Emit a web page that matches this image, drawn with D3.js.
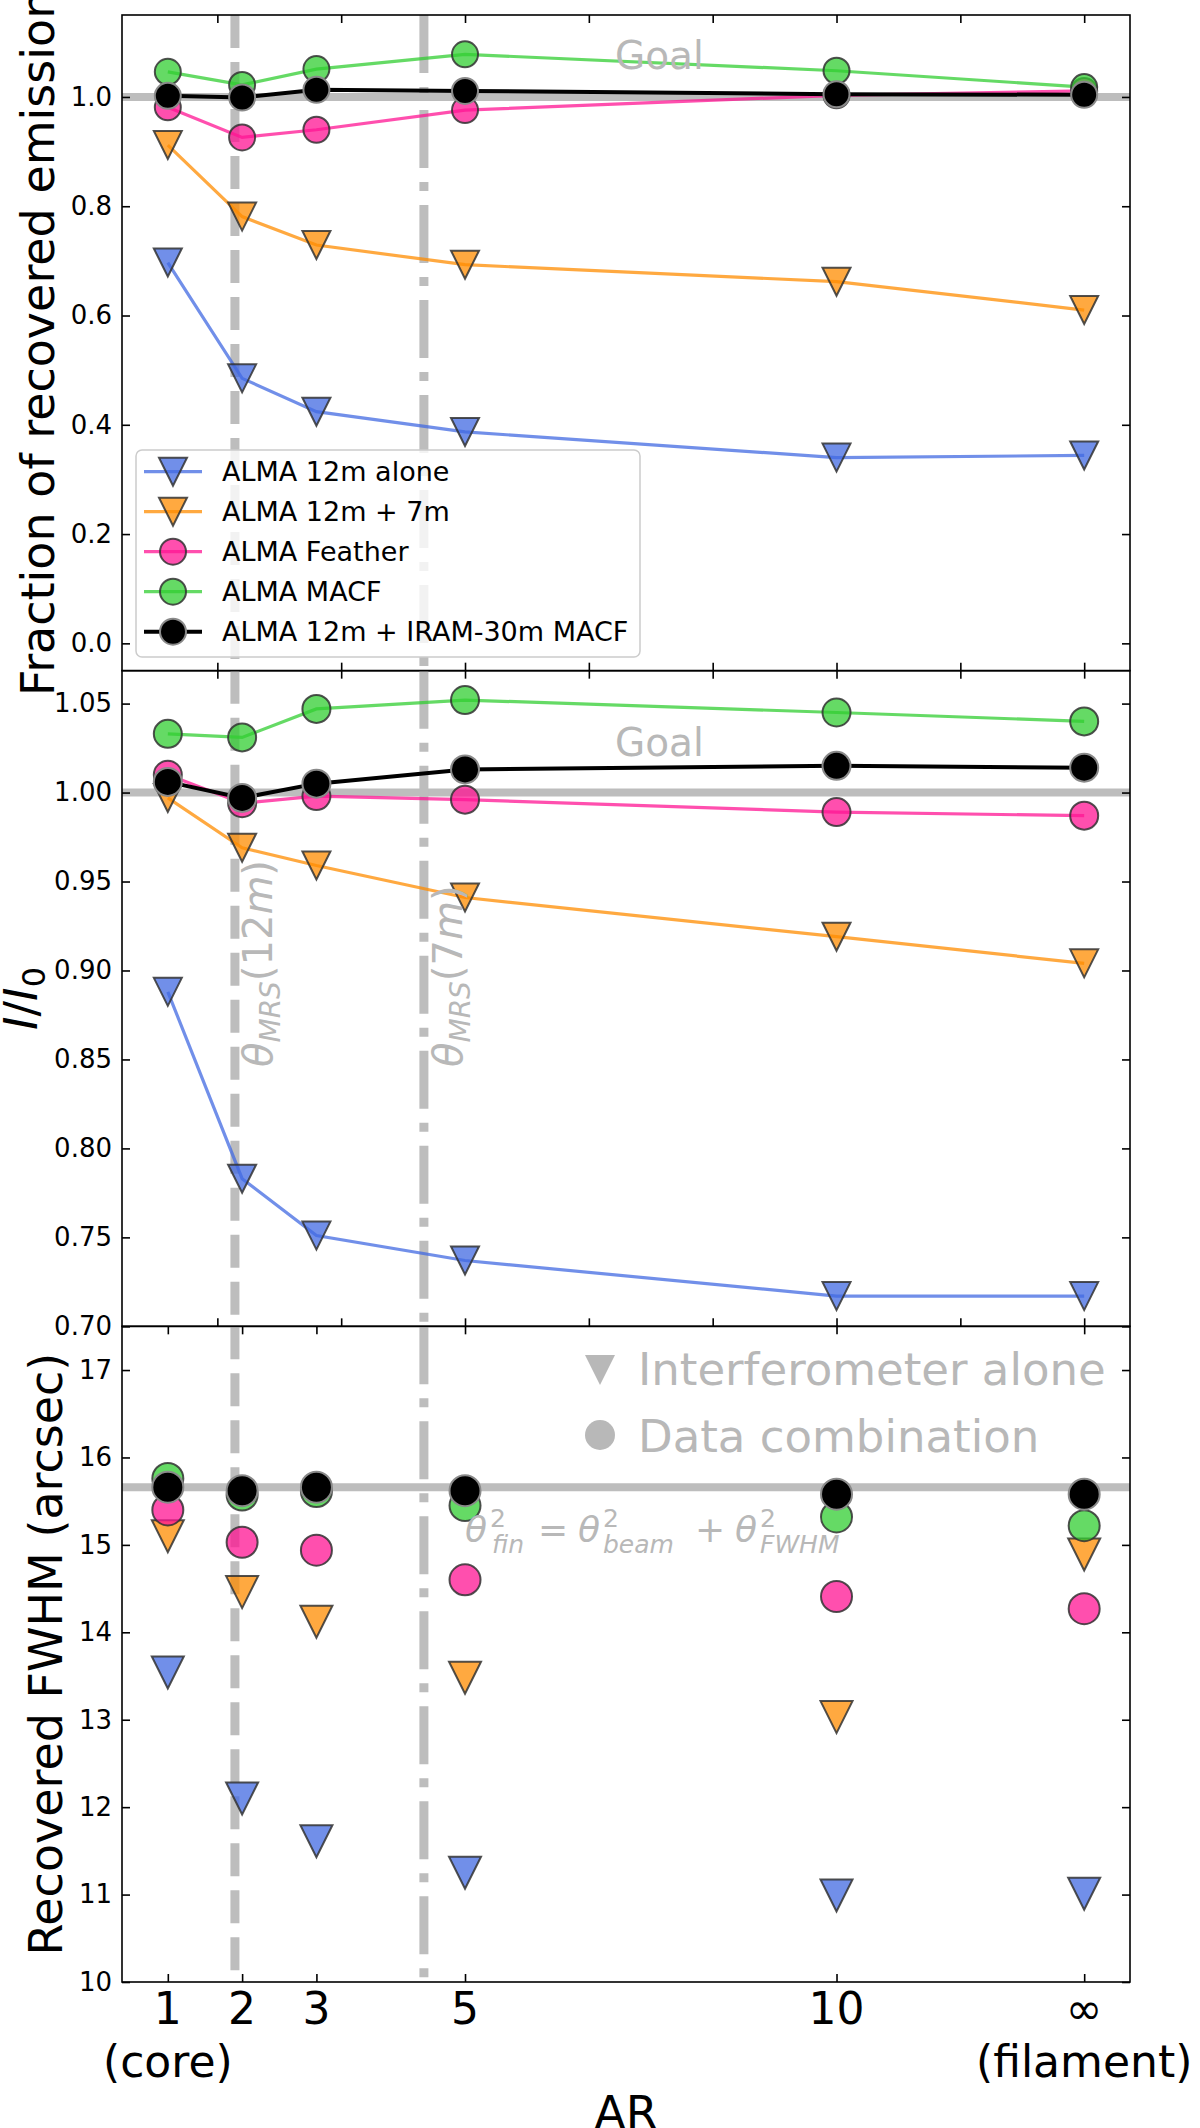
<!DOCTYPE html>
<html>
<head>
<meta charset="utf-8">
<script src="https://cdn.jsdelivr.net/npm/d3@7"></script>
<style>
  body { margin: 0; background: #fff; }
  svg { display: block; }
  text { font-family: "DejaVu Sans", sans-serif; }
</style>
</head>
<body>
<div id="chart"></div>
<script>
// x axis: AR categories drawn at these plot positions
const arLabels = [["1", "(core)"], ["2"], ["3"], ["5"], ["10"], ["\u221e", "(filament)"]];
const arPos = [3, 6, 9, 15, 30, 40];
const autoTicks = [5, 10, 15, 20, 25, 30, 35, 40];
const mrs12m = 5.71, mrs7m = 13.34;

const seriesNames = ["ALMA 12m alone", "ALMA 12m + 7m", "ALMA Feather", "ALMA MACF", "ALMA 12m + IRAM-30m MACF"];
const seriesColors = ["#4169e1", "#ff8c00", "#ff1493", "#32cd32", "#000000"];
const seriesMarkers = ["tri", "tri", "circ", "circ", "circ"];

// top panel: fraction of recovered emission
const fracTicks = [0.0, 0.2, 0.4, 0.6, 0.8, 1.0];
const frac12m     = [0.697, 0.485, 0.424, 0.387, 0.340, 0.344];
const frac12m7m   = [0.912, 0.781, 0.729, 0.693, 0.662, 0.610];
const fracFeather = [0.981, 0.926, 0.940, 0.976, 1.003, 1.011];
const fracMacf    = [1.046, 1.022, 1.051, 1.078, 1.048, 1.018];
const fracIram    = [1.002, 0.999, 1.013, 1.011, 1.005, 1.004];

// middle panel: I/I0
const ratioTicks = [0.70, 0.75, 0.80, 0.85, 0.90, 0.95, 1.00, 1.05];
const ratio12m     = [0.888, 0.783, 0.751, 0.737, 0.717, 0.717];
const ratio12m7m   = [0.997, 0.969, 0.959, 0.941, 0.919, 0.904];
const ratioFeather = [1.010, 0.994, 0.998, 0.996, 0.989, 0.987];
const ratioMacf    = [1.033, 1.031, 1.047, 1.052, 1.045, 1.040];
const ratioIram    = [1.006, 0.997, 1.005, 1.013, 1.015, 1.014];

// bottom panel: recovered FWHM (arcsec)
const fwhmTicks = [10, 11, 12, 13, 14, 15, 16, 17];
const fwhm12m     = [13.54, 12.10, 11.61, 11.25, 10.99, 11.01];
const fwhm12m7m   = [15.10, 14.46, 14.12, 13.48, 13.03, 14.89];
const fwhmFeather = [15.40, 15.03, 14.94, 14.60, 14.41, 14.27];
const fwhmMacf    = [15.76, 15.57, 15.61, 15.45, 15.32, 15.22];
const fwhmIram    = [15.66, 15.62, 15.66, 15.62, 15.58, 15.58];
const fwhmGoal = 15.66;

const width = 1200, height = 2128;
const left = 122, right = 1130;
const panelTop = [15, 670.67, 1326.33], ph = 655.67;
const gray = "#bdbdbd", textGray = "#b8b8b8";

const svg = d3.select("#chart").append("svg")
    .attr("width", width)
    .attr("height", height);

const x = d3.scaleLinear().domain([1.15, 41.85]).range([left, right]);

const panels = [
    { domain: [-0.05, 1.15], ticks: fracTicks, fmt: d3.format(".1f"), goal: 1.0, lines: true,
      data: [frac12m, frac12m7m, fracFeather, fracMacf, fracIram], tri: 28, circ: 26, xticks: autoTicks },
    { domain: [0.70, 1.0685], ticks: ratioTicks, fmt: d3.format(".2f"), goal: 1.0, lines: true,
      data: [ratio12m, ratio12m7m, ratioFeather, ratioMacf, ratioIram], tri: 28, circ: 28, xticks: autoTicks },
    { domain: [10, 17.5], ticks: fwhmTicks, fmt: d3.format("d"), goal: fwhmGoal, lines: false,
      data: [fwhm12m, fwhm12m7m, fwhmFeather, fwhmMacf, fwhmIram], tri: 32, circ: 31, xticks: arPos }
];

function triPath(s) {
    const h = s / 2;
    return `M${-h},${-h}L${h},${-h}L0,${h}Z`;
}

function drawMarker(g, type, cx, cy, size, color, k) {
    const black = color === "#000000";
    let m;
    if (type === "tri") {
        m = g.append("path").attr("d", triPath(size)).attr("transform", `translate(${cx},${cy})`);
    } else {
        m = g.append("circle").attr("cx", cx).attr("cy", cy).attr("r", size / 2);
    }
    m.attr("fill", color)
        .attr("fill-opacity", black ? 1 : 0.75)
        .attr("stroke", black ? "#8a8a8a" : "#333")
        .attr("stroke-opacity", black ? 1 : 0.85)
        .attr("stroke-width", 2);
    return m;
}

const yScales = [];

panels.forEach((p, k) => {
    const top = panelTop[k], bot = top + ph;
    const y = d3.scaleLinear().domain(p.domain).range([bot, top]);
    yScales.push(y);
    const g = svg.append("g");

    // goal line
    g.append("line")
        .attr("x1", left).attr("x2", right)
        .attr("y1", y(p.goal)).attr("y2", y(p.goal))
        .attr("stroke", gray).attr("stroke-width", 8);

    // maximum recoverable scale lines
    g.append("line")
        .attr("x1", x(mrs12m)).attr("x2", x(mrs12m))
        .attr("y1", top).attr("y2", bot)
        .attr("stroke", gray).attr("stroke-width", 9)
        .attr("stroke-dasharray", "33,14");
    g.append("line")
        .attr("x1", x(mrs7m)).attr("x2", x(mrs7m))
        .attr("y1", top).attr("y2", bot)
        .attr("stroke", gray).attr("stroke-width", 9)
        .attr("stroke-dasharray", "58,14,9,14");

    // series
    p.data.forEach((vals, s) => {
        const color = seriesColors[s];
        if (p.lines) {
            const line = d3.line()
                .x((d, i) => x(arPos[i]))
                .y(d => y(d));
            g.append("path")
                .datum(vals)
                .attr("d", line)
                .attr("fill", "none")
                .attr("stroke", color)
                .attr("stroke-opacity", color === "#000000" ? 1 : 0.75)
                .attr("stroke-width", color === "#000000" ? 4 : 3.2);
        }
        const size = seriesMarkers[s] === "tri" ? p.tri : p.circ;
        vals.forEach((v, i) => drawMarker(g, seriesMarkers[s], x(arPos[i]), y(v), size, color));
    });

    // axes, ticks pointing inwards
    const styleAxis = a => {
        a.select(".domain").remove();
        a.selectAll(".tick line").attr("stroke", "#000").attr("stroke-width", 1.6);
        a.attr("font-family", "DejaVu Sans").attr("font-size", 26);
        a.selectAll(".tick text").attr("fill", "#000");
    };
    g.append("g").attr("transform", `translate(${left},0)`)
        .call(d3.axisLeft(y).tickValues(p.ticks).tickFormat(p.fmt).tickSize(-8).tickPadding(10))
        .call(styleAxis);
    g.append("g").attr("transform", `translate(${right},0)`)
        .call(d3.axisRight(y).tickValues(p.ticks).tickFormat("").tickSize(-8))
        .call(styleAxis);
    g.append("g").attr("transform", `translate(0,${top})`)
        .call(d3.axisTop(x).tickValues(p.xticks).tickFormat("").tickSize(-8))
        .call(styleAxis);
    g.append("g").attr("transform", `translate(0,${bot})`)
        .call(d3.axisBottom(x).tickValues(p.xticks).tickFormat("").tickSize(-8))
        .call(styleAxis);

    g.append("rect")
        .attr("x", left).attr("y", top)
        .attr("width", right - left).attr("height", ph)
        .attr("fill", "none").attr("stroke", "#000").attr("stroke-width", 1.6);
});

// Goal labels
[69, 756].forEach(yy => {
    svg.append("text").attr("x", 615).attr("y", yy)
        .attr("font-size", 39).attr("fill", textGray).text("Goal");
});

// MRS labels (rotated)
function mrsLabel(xx, yy, inner) {
    const t = svg.append("text")
        .attr("transform", `translate(${xx},${yy}) rotate(-90)`)
        .attr("font-size", 40).attr("fill", textGray);
    t.append("tspan").attr("font-style", "italic").text("\u03b8");
    t.append("tspan").attr("font-style", "italic").attr("font-size", 28).attr("dy", 8).text("MRS");
    t.append("tspan").attr("dy", -8).text("(" + inner);
    t.append("tspan").attr("font-style", "italic").text("m");
    t.append("tspan").text(")");
}
mrsLabel(272, 1067, "12");
mrsLabel(462, 1067, "7");

// y axis labels
const centers = panelTop.map(t => t + ph / 2);
svg.append("text")
    .attr("transform", `translate(54,${centers[0]}) rotate(-90)`)
    .attr("text-anchor", "middle").attr("font-size", 46)
    .text("Fraction of recovered emission");
const iLab = svg.append("text")
    .attr("transform", `translate(37,${centers[1]}) rotate(-90)`)
    .attr("text-anchor", "middle").attr("font-size", 46);
iLab.append("tspan").attr("font-style", "italic").text("I");
iLab.append("tspan").text("/");
iLab.append("tspan").attr("font-style", "italic").text("I");
iLab.append("tspan").attr("font-size", 32).attr("dy", 8).text("0");
svg.append("text")
    .attr("transform", `translate(62,${centers[2]}) rotate(-90)`)
    .attr("text-anchor", "middle").attr("font-size", 46)
    .text("Recovered FWHM (arcsec)");

// bottom tick labels
const bottom = panelTop[2] + ph;
arLabels.forEach((lines, i) => {
    const t = svg.append("text")
        .attr("text-anchor", "middle").attr("font-size", 44);
    lines.forEach((l, j) => {
        t.append("tspan").attr("x", x(arPos[i])).attr("y", bottom + 42 + j * 53).text(l);
    });
});
svg.append("text")
    .attr("x", (left + right) / 2).attr("y", 2129)
    .attr("text-anchor", "middle").attr("font-size", 46)
    .text("AR");

// formula in bottom panel
const fy = 1542;
const formula = [
    { x: 465, dy: 0, fs: 36, it: true, t: "\u03b8" },
    { x: 490, dy: -15, fs: 25, it: false, t: "2" },
    { x: 492, dy: 11, fs: 25, it: true, t: "fin" },
    { x: 538, dy: 0, fs: 36, it: false, t: "=" },
    { x: 578, dy: 0, fs: 36, it: true, t: "\u03b8" },
    { x: 603, dy: -15, fs: 25, it: false, t: "2" },
    { x: 603, dy: 11, fs: 25, it: true, t: "beam" },
    { x: 695, dy: 0, fs: 36, it: false, t: "+" },
    { x: 735, dy: 0, fs: 36, it: true, t: "\u03b8" },
    { x: 760, dy: -15, fs: 25, it: false, t: "2" },
    { x: 760, dy: 11, fs: 25, it: true, t: "FWHM" }
];
formula.forEach(f => {
    svg.append("text").attr("x", f.x).attr("y", fy + f.dy)
        .attr("font-size", f.fs).attr("font-style", f.it ? "italic" : "normal")
        .attr("fill", textGray).text(f.t);
});

// bottom panel marker legend
svg.append("path").attr("d", triPath(30)).attr("transform", "translate(600,1370)").attr("fill", textGray);
svg.append("circle").attr("cx", 600).attr("cy", 1435).attr("r", 15).attr("fill", textGray);
svg.append("text").attr("x", 638).attr("y", 1385).attr("font-size", 45).attr("fill", textGray).text("Interferometer alone");
svg.append("text").attr("x", 638).attr("y", 1452).attr("font-size", 45).attr("fill", textGray).text("Data combination");

// top panel legend
const lg = svg.append("g");
lg.append("rect")
    .attr("x", 136).attr("y", 450).attr("width", 504).attr("height", 207)
    .attr("rx", 6).attr("fill", "#fff").attr("fill-opacity", 0.8)
    .attr("stroke", "#cccccc").attr("stroke-width", 1.5);
seriesNames.forEach((name, s) => {
    const cy = 471.7 + s * 40;
    const color = seriesColors[s];
    lg.append("line")
        .attr("x1", 144).attr("x2", 202).attr("y1", cy).attr("y2", cy)
        .attr("stroke", color)
        .attr("stroke-opacity", color === "#000000" ? 1 : 0.75)
        .attr("stroke-width", color === "#000000" ? 4 : 3.2);
    drawMarker(lg, seriesMarkers[s], 173, cy, seriesMarkers[s] === "tri" ? 28 : 26, color);
    lg.append("text")
        .attr("x", 222).attr("y", cy)
        .attr("dominant-baseline", "central")
        .attr("font-size", 27)
        .text(name);
});
</script>
</body>
</html>
